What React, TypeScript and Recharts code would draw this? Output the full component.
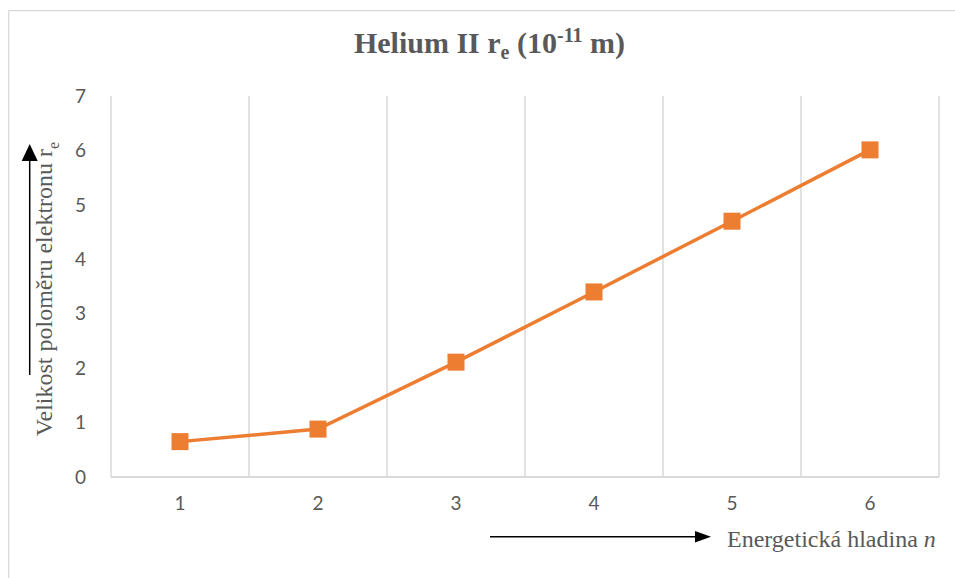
import React from 'react';
import { LineChart, Line, XAxis, YAxis, ReferenceLine } from 'recharts';

const levels = [1, 2, 3, 4, 5, 6];
const radii = [0.65, 0.88, 2.11, 3.4, 4.7, 6.01];
const yTicks = [0, 1, 2, 3, 4, 5, 6, 7];
const boundaries = [0.5, 1.5, 2.5, 3.5, 4.5, 5.5, 6.5];

const data = levels.map((n, i) => ({ n, r: radii[i] }));

const ORANGE = '#ED7D31';
const GREY = '#595959';
const GRID = '#d9d9d9';
const SERIF = '"Liberation Serif", "Times New Roman", serif';
const SANS = 'Lato, "Open Sans", sans-serif';

const SquareDot = (props: any) => {
  const { cx, cy, index } = props;
  if (cx == null || cy == null) return null;
  return <rect key={`d${index}`} x={cx - 8.5} y={cy - 8.5} width={17} height={17} fill={ORANGE} />;
};

export default function App() {
  const W = 947;
  const H = 568;
  return (
    <div style={{ position: 'relative', width: 955, height: 578, overflow: 'hidden', background: '#fff' }}>
      <style>{'body{margin:0;}'}</style>
      <div style={{ position: 'absolute', left: 8, top: 10, width: W, height: H }}>
        <LineChart
          width={W}
          height={H}
          data={data}
          margin={{ top: 86, right: 16, bottom: 71, left: 0 }}
        >
          <XAxis
            dataKey="n"
            type="number"
            domain={[0.5, 6.5]}
            ticks={levels}
            height={30}
            tickLine={false}
            tickMargin={14}
            axisLine={{ stroke: GRID, strokeWidth: 2 }}
            tick={{ fill: GREY, fontSize: 19, fontFamily: SANS }}
          />
          <YAxis
            type="number"
            domain={[0, 7]}
            ticks={yTicks}
            width={103}
            axisLine={false}
            tickLine={false}
            tickMargin={19}
            tick={{ fill: GREY, fontSize: 19, fontFamily: SANS }}
          />
          {boundaries.map((b) => (
            <ReferenceLine key={b} x={b} stroke={GRID} strokeWidth={1.5} ifOverflow="visible" />
          ))}
          <Line
            type="linear"
            dataKey="r"
            stroke={ORANGE}
            strokeWidth={3.5}
            dot={SquareDot}
            activeDot={false}
            isAnimationActive={false}
          />
        </LineChart>
        <svg
          width={W}
          height={H}
          style={{ position: 'absolute', left: 0, top: 0, pointerEvents: 'none' }}
        >
          <line x1={0.5} y1={0.5} x2={W} y2={0.5} stroke={GRID} strokeWidth={1.5} />
          <line x1={0.5} y1={0.5} x2={0.5} y2={H} stroke={GRID} strokeWidth={1.5} />
          <text x={481.5} y={43} textAnchor="middle" fontFamily={SERIF} fontWeight="bold" fontSize={30} fill={GREY}>
            <tspan>Helium II r</tspan>
            <tspan fontSize={20} dy={6}>e</tspan>
            <tspan dy={-6}> (10</tspan>
            <tspan fontSize={20} dy={-11}>-11</tspan>
            <tspan dy={11}> m)</tspan>
          </text>
          <text
            x={44}
            y={279}
            transform="rotate(-90, 44, 279)"
            textAnchor="middle"
            fontFamily={SERIF}
            fontSize={24}
            fill={GREY}
          >
            <tspan fontFamily={SERIF}>Velikost poloměru elektronu r</tspan>
            <tspan fontFamily={SERIF} fontSize={16} dy={7}>e</tspan>
          </text>
          <line x1={21.7} y1={365} x2={21.7} y2={148} stroke="#000" strokeWidth={1.5} />
          <polygon points="21.7,134 13.7,151 29.7,151" fill="#000" />
          <text x={719} y={536.7} fontFamily={SERIF} fontSize={24} fill={GREY}>
            <tspan>Energetická hladina </tspan>
            <tspan fontStyle="italic">n</tspan>
          </text>
          <line x1={482} y1={526.7} x2={689} y2={526.7} stroke="#000" strokeWidth={1.5} />
          <polygon points="703,526.7 687,521 687,532.4" fill="#000" />
        </svg>
      </div>
    </div>
  );
}
